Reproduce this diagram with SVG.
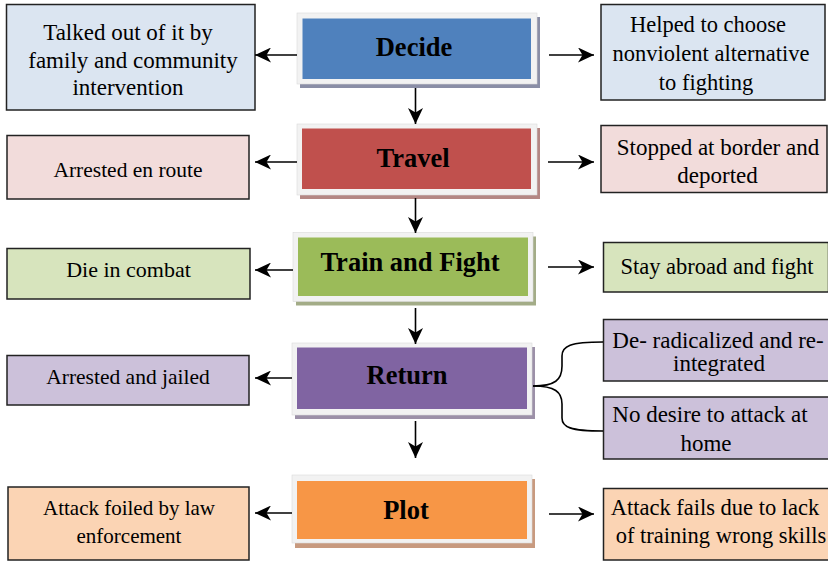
<svg xmlns="http://www.w3.org/2000/svg" width="828" height="561" viewBox="0 0 828 561">
<defs>
<style>
text{fill:#000;text-anchor:middle}
.lbl{font-weight:bold;font-size:26.5px}
.box{stroke:#222;stroke-width:1.5}
.frame{fill:#f2f2f2;stroke:#dadada;stroke-width:0.6}
.con{stroke:#000;stroke-width:1.6;fill:none}
</style>
<marker id="ah" markerWidth="17" markerHeight="15" refX="16" refY="7.5" orient="auto" markerUnits="userSpaceOnUse">
<path d="M0,0 L16,7.5 L0,15 L4.5,7.5 Z" fill="#000"/>
</marker>
</defs>
<rect width="828" height="561" fill="#fff"/>
<g font-family="Liberation Serif">
<g id="decide">
<rect x="300" y="17" width="240" height="71" fill="#8a8ea6"/>
<rect class="frame" x="297" y="13" width="240" height="71"/>
<rect x="302.5" y="18.5" width="228.5" height="60.5" fill="#4f81bd"/>
<text class="lbl" x="414" y="56">Decide</text>
</g>
<g id="travel">
<rect x="300" y="128" width="240" height="71" fill="#b48784"/>
<rect class="frame" x="297" y="124" width="240" height="71"/>
<rect x="302" y="128.5" width="229" height="60.5" fill="#c0504d"/>
<text class="lbl" x="413" y="167">Travel</text>
</g>
<g id="train">
<rect x="296" y="236.5" width="240" height="69" fill="#a3ac87"/>
<rect class="frame" x="293" y="232.5" width="240" height="69"/>
<rect x="298" y="237.5" width="230" height="58.5" fill="#9bbb59"/>
<text class="lbl" x="410" y="271">Train and Fight</text>
</g>
<g id="return">
<rect x="295" y="347" width="240" height="72" fill="#9c90a8"/>
<rect class="frame" x="292" y="343" width="240" height="72"/>
<rect x="297" y="347.5" width="230" height="61.5" fill="#8064a2"/>
<text class="lbl" x="407" y="384">Return</text>
</g>
<g id="plot">
<rect x="295" y="479" width="240" height="69" fill="#c89a7f"/>
<rect class="frame" x="292" y="475" width="240" height="68"/>
<rect x="297" y="481" width="230" height="58" fill="#f79646"/>
<text class="lbl" x="406" y="518.5">Plot</text>
</g>

<g id="talked">
<rect class="box" x="6.5" y="4.5" width="248.5" height="105.5" fill="#dbe5f1"/>
<text font-size="23" x="128" y="39.5">Talked out of it by</text>
<text font-size="23" x="133" y="67.5">family and community</text>
<text font-size="23" x="128" y="95">intervention</text>
</g>
<g id="helped">
<rect class="box" x="601" y="4.5" width="224" height="95.5" fill="#dbe5f1"/>
<text font-size="22.5" x="708" y="31.5">Helped to choose</text>
<text font-size="22.5" x="711" y="61">nonviolent alternative</text>
<text font-size="22.5" x="706" y="90">to fighting</text>
</g>
<g id="arrested-route">
<rect class="box" x="7" y="135.5" width="242" height="63.5" fill="#f2dcdb"/>
<text font-size="21.5" x="128" y="176.5">Arrested en route</text>
</g>
<g id="stopped">
<rect class="box" x="601" y="125.5" width="226" height="67" fill="#f2dcdb"/>
<text font-size="23" x="718" y="155">Stopped at border and</text>
<text font-size="23" x="717.5" y="182.5">deported</text>
</g>
<g id="die">
<rect class="box" x="7" y="248.5" width="243" height="50.5" fill="#d7e4bd"/>
<text font-size="22" x="128.5" y="277">Die in combat</text>
</g>
<g id="stay">
<rect class="box" x="603.5" y="242.5" width="225" height="49.5" fill="#d7e4bd"/>
<text font-size="22.5" x="717" y="274">Stay abroad and fight</text>
</g>
<g id="arrested-jailed">
<rect class="box" x="7" y="355.5" width="242" height="49.5" fill="#ccc1da"/>
<text font-size="21.5" x="128" y="384">Arrested and jailed</text>
</g>
<g id="deradicalized">
<rect class="box" x="603.5" y="319.5" width="226" height="61.5" fill="#ccc1da"/>
<text font-size="23" x="718" y="348">De- radicalized and re-</text>
<text font-size="23" x="719" y="371">integrated</text>
</g>
<g id="nodesire">
<rect class="box" x="603.5" y="397" width="226" height="62" fill="#ccc1da"/>
<text font-size="23" x="710" y="422">No desire to attack at</text>
<text font-size="23" x="706" y="451">home</text>
</g>
<g id="foiled">
<rect class="box" x="8" y="487" width="241" height="73" fill="#fbd4b4"/>
<text font-size="21" x="129" y="515">Attack foiled by law</text>
<text font-size="21" x="129" y="542.5">enforcement</text>
</g>
<g id="fails">
<rect class="box" x="603.5" y="488.5" width="226" height="71.5" fill="#fbd4b4"/>
<text font-size="22.5" x="715" y="515">Attack fails due to lack</text>
<text font-size="22.5" x="721" y="542.5">of training wrong skills</text>
</g>
</g>
<g id="connectors">
<line class="con" x1="297" y1="55" x2="255" y2="55" marker-end="url(#ah)"/>
<line class="con" x1="549" y1="55" x2="594" y2="55" marker-end="url(#ah)"/>
<line class="con" x1="297" y1="162" x2="255" y2="162" marker-end="url(#ah)"/>
<line class="con" x1="548" y1="162" x2="594" y2="162" marker-end="url(#ah)"/>
<line class="con" x1="293" y1="270" x2="255" y2="270" marker-end="url(#ah)"/>
<line class="con" x1="548" y1="267" x2="594" y2="267" marker-end="url(#ah)"/>
<line class="con" x1="292" y1="378" x2="255" y2="378" marker-end="url(#ah)"/>
<line class="con" x1="292" y1="513" x2="255" y2="513" marker-end="url(#ah)"/>
<line class="con" x1="549" y1="514" x2="594" y2="514" marker-end="url(#ah)"/>
<line class="con" x1="415.5" y1="88" x2="415.5" y2="124" marker-end="url(#ah)"/>
<line class="con" x1="415.5" y1="198" x2="415.5" y2="233" marker-end="url(#ah)"/>
<line class="con" x1="415.5" y1="308" x2="415.5" y2="344" marker-end="url(#ah)"/>
<line class="con" x1="415.5" y1="421" x2="415.5" y2="458" marker-end="url(#ah)"/>
<path class="con" d="M533,386 C555,386 562,380 562,366 L562,356 C562,346 570,342 603,342"/>
<path class="con" d="M533,386 C555,386 562,392 562,404 L562,418 C562,427 570,431 603,431"/>
</g>
</svg>
